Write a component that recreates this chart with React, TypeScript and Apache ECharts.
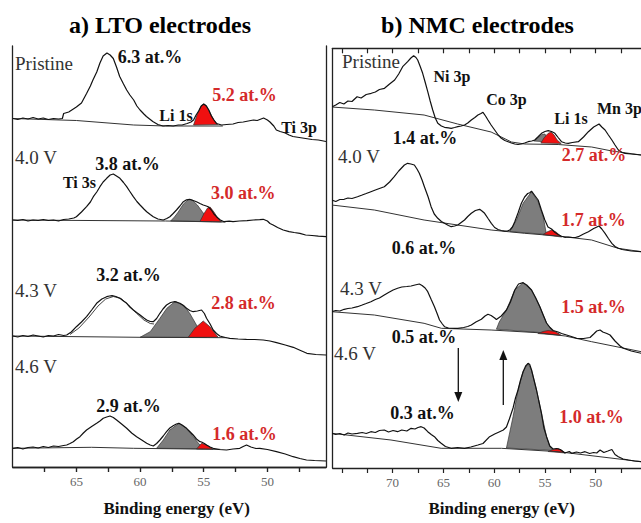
import React, { useEffect, useRef } from "react";
import * as echarts from "echarts";

// ---------- LTO (left) : [binding energy eV, intensity a.u.] ----------
const ltoPristine = [[70.0,348.5],[69.6,347.5],[69.2,349],[68.8,348],[68.4,349.5],[68.0,348],[67.6,349],[67.2,347.5],[66.8,348.5],[66.4,348],[66.1,348.5],[66.0,353.5],[65.6,355],[65.0,360],[64.6,364],[64.2,373.5],[63.9,381],[63.7,387],[63.4,395],[63.15,404],[62.9,411],[62.6,414],[62.35,412],[62.1,408.5],[61.85,400],[61.6,390.5],[61.3,383],[61.05,377],[60.8,372],[60.5,367],[60.25,361],[60.0,357],[59.7,353],[59.5,350.5],[59.2,347.5],[59.0,345.5],[58.6,342.5],[58.2,341],[57.8,341.5],[57.4,341],[57.0,342],[56.7,342],[56.3,343.5],[56.0,345],[55.8,347],[55.6,352],[55.4,356],[55.2,361],[55.0,363],[54.8,361],[54.6,357],[54.4,351],[54.2,347],[54.0,343.5],[53.6,342],[53.2,342.5],[52.7,343],[52.3,344.5],[51.9,345],[51.5,346],[51.1,347],[50.8,346.5],[50.5,348],[50.3,349],[50.0,347],[49.8,345],[49.5,341],[49.3,337],[49.0,335.5],[48.6,334],[48.3,332],[48.0,330.5],[47.5,329.5],[47.0,328.5],[46.5,327.5],[46.0,327],[45.4,325.5]];
const ltoPristineBg = [[70.0,348.5],[65.0,346.5],[60.5,342],[58.0,341],[53.5,341]];
const ltoPristineLi = [[55.8,342],[55.5,353],[55.2,361],[55.0,363],[54.8,361.5],[54.5,354],[54.2,347],[53.9,342.5]];

const lto40 = [[70.0,247],[69.6,246.5],[69.2,247.5],[68.8,246],[68.4,247],[68.0,246.5],[67.6,247.5],[67.2,246.5],[66.8,247],[66.4,246],[66.0,247.5],[65.6,248],[65.2,249],[65.0,250.3],[64.6,255],[64.2,260.3],[63.9,265],[63.67,270.3],[63.4,275],[63.15,280.3],[62.9,285],[62.62,288.7],[62.35,292],[62.1,293],[61.85,291],[61.58,288.7],[61.3,284.5],[61.05,280.3],[60.8,275.5],[60.53,270.3],[60.25,265.5],[60.0,262],[59.7,258],[59.48,255.3],[59.2,252.5],[58.96,250.3],[58.6,248],[58.18,247],[57.9,248.5],[57.66,250.3],[57.4,253.5],[57.14,257],[56.87,261],[56.6,265.3],[56.35,267.2],[56.1,267.7],[55.83,266.5],[55.57,265.3],[55.3,263.5],[55.04,262],[54.8,261],[54.65,260.3],[54.4,257],[54.2,253],[54.0,250.3],[53.7,247],[53.4,245.3],[53.0,245.8],[52.7,245.3],[52.2,246],[51.6,246.3],[51.1,247],[50.6,247.3],[50.33,247.7],[50.0,246],[49.8,243.5],[49.55,242],[49.2,239.5],[48.76,237],[48.3,235.3],[47.9,234.5],[47.45,233.7],[47.0,232],[46.5,231.5],[46.0,230.8],[45.4,230.3]];
const lto40Bg = [[70.0,247],[58.0,246],[53.3,245]];
const lto40Gray = [[57.6,246],[57.3,250],[57.0,255],[56.6,263],[56.2,267.5],[55.9,267],[55.5,262],[55.1,255],[54.7,249],[54.4,245.5]];
const lto40Li = [[55.3,245.5],[55.0,253],[54.7,259],[54.5,260],[54.2,255],[53.9,249],[53.6,245]];

const lto43 = [[70.0,131],[69.6,130],[69.2,131.5],[68.8,130.5],[68.4,132],[68.0,131],[67.6,130],[67.2,131.5],[66.8,131],[66.4,132.5],[66.0,131.5],[65.76,132],[65.4,135],[65.0,140.3],[64.6,145],[64.2,150.3],[63.8,157],[63.41,163.7],[63.0,168],[62.62,170.3],[62.4,171],[62.2,171.3],[61.9,170.5],[61.58,168.7],[61.3,166],[61.05,163.7],[60.8,160],[60.53,157],[60.27,154.5],[60.0,152],[59.7,149],[59.48,147],[59.2,145.5],[58.96,145.3],[58.7,148.5],[58.44,153.7],[58.2,158],[57.92,162],[57.6,164.5],[57.27,165.3],[57.1,164.8],[56.87,163.7],[56.6,161.5],[56.35,158.7],[56.1,156.5],[55.83,155.3],[55.5,156],[55.17,157],[54.95,153.5],[54.78,148.7],[54.5,143],[54.26,137],[54.0,133.5],[53.74,131],[53.3,129.5],[52.96,128.7],[52.3,128],[51.65,127.7],[51.0,127.5],[50.33,127],[49.8,126],[49.28,124.3],[48.6,122],[47.97,119.7],[47.4,116.5],[46.9,113.7],[46.2,112.5],[45.4,112]];
const lto43Fit = [[65.5,132.5],[64.8,139],[64.0,150],[63.3,161],[62.7,168],[62.1,170.5],[61.5,168.5],[60.9,162],[60.3,154],[59.7,147],[59.2,143.5],[58.9,143]];
const lto43Bg = [[70.0,131],[60.0,129.7],[53.2,129.3]];
const lto43Gray = [[60.0,129.7],[59.2,135.3],[58.44,148.7],[57.9,158.7],[57.27,165.3],[56.6,162],[56.1,153.7],[55.57,142],[55.04,132],[54.78,129.7]];
const lto43Li = [[56.22,129.7],[55.7,138.7],[55.04,146],[54.52,140.3],[53.87,129.7]];

const lto46 = [[70.0,18.7],[69.6,19.5],[69.2,18],[68.8,19.5],[68.4,20],[68.0,19],[67.6,20.5],[67.2,19.5],[66.8,21],[66.4,20.5],[66.0,21.5],[65.76,22],[65.5,23.5],[65.24,25.3],[64.98,28],[64.72,30.3],[64.45,34],[64.2,37],[63.8,40.5],[63.41,43.7],[63.15,46],[62.89,48.7],[62.62,50],[62.36,51],[62.1,49.5],[61.84,47],[61.45,43],[61.05,38.7],[60.66,34],[60.27,30.3],[59.87,27],[59.48,23.7],[59.2,22],[58.96,21],[58.7,23.5],[58.44,27],[58.18,31],[57.92,35.3],[57.66,39],[57.4,41.3],[57.15,43],[56.95,43.7],[56.7,42],[56.35,38.7],[56.1,35.5],[55.83,32],[55.57,28],[55.3,25.3],[55.17,25],[54.95,23.5],[54.78,22],[54.5,20],[54.26,18.7],[53.8,17.5],[53.21,17],[52.7,18],[52.17,18.7],[51.9,20.5],[51.64,22],[51.3,20],[50.9,18.5],[50.6,18.7],[50.0,17.5],[49.29,15.3],[48.6,13],[47.98,10.3],[47.45,8.5],[46.93,7],[46.3,6.5],[45.4,6]];
const lto46Bg = [[70.0,18.7],[63.8,19.7],[60.5,18.7],[53.7,17.7]];
const lto46Gray = [[58.7,18.7],[58.18,27],[57.66,37],[56.95,43.7],[56.35,38.7],[55.83,30.3],[55.3,22],[55.04,18.3]];
const lto46Li = [[55.57,18],[55.17,23.7],[54.78,22],[54.26,17.7]];

// ---------- NMC (right) ----------
const nmcPristine = [[76.0,361],[75.6,363],[75.2,365.5],[74.8,364],[74.4,367],[74.0,366.5],[73.5,371.3],[73.1,370],[72.6,373.5],[72.1,374.7],[71.7,376],[71.3,378.5],[70.8,379.7],[70.3,384],[69.8,388],[69.4,394],[69.01,401.3],[68.52,406.3],[68.2,410],[67.93,412.3],[67.7,410.5],[67.53,408],[67.3,402],[67.04,394.7],[66.8,386],[66.54,376.3],[66.3,367],[66.05,358],[65.8,350],[65.55,344.7],[65.2,342],[64.89,340.7],[64.5,340.2],[64.23,339.7],[63.9,340.5],[63.58,341.3],[63.25,342],[62.92,343],[62.6,345],[62.25,348],[61.9,350.5],[61.6,353],[61.3,354.5],[61.1,355.7],[60.85,352],[60.61,348],[60.3,343],[59.95,338],[59.6,333],[59.29,329.7],[58.95,327.5],[58.63,326.3],[58.3,325],[57.97,324],[57.65,323.5],[57.32,324],[57.0,325],[56.66,326.3],[56.3,327],[56.0,328],[55.7,331],[55.34,334.7],[55.0,336.5],[54.68,337.3],[54.35,336.5],[54.02,334.7],[53.7,330.5],[53.37,326.3],[53.0,325],[52.71,324.7],[52.3,325.5],[51.71,326.3],[51.2,331],[50.72,336.3],[50.2,341],[49.67,344],[49.4,341],[49.08,338],[48.75,333],[48.41,328],[48.1,323],[47.77,318],[47.4,315.5],[47.11,314.7],[46.5,314],[45.52,313]];
const nmcPristineBg = [[76.0,361],[71.8,358],[66.9,353],[63.6,344],[60.3,336],[58.3,326],[57.0,324],[53.7,323.5],[50.4,321],[48.4,317],[45.52,313]];
const nmcPristineGray = [[56.1,327],[55.7,330],[55.3,333.5],[55.0,334],[54.8,330],[54.6,326]];
const nmcPristineLi = [[55.4,325],[55.1,330],[54.7,334.5],[54.4,336],[54.1,333],[53.8,328],[53.4,324.5]];

const nmc40 = [[76.0,268],[75.6,266.5],[75.2,268.5],[74.77,268.7],[74.4,270],[74.0,269.5],[73.46,271.3],[73.0,273],[72.6,274.5],[72.14,276.3],[71.7,278],[71.3,279.5],[70.82,281.3],[70.3,286],[69.84,291.3],[69.4,297],[68.84,303],[68.52,304.7],[68.2,304],[67.86,303],[67.6,299],[67.37,294.7],[67.1,288],[66.87,281.3],[66.5,271],[66.21,261.3],[65.9,254],[65.55,249.7],[65.2,246.5],[64.89,244.7],[64.5,242.5],[64.23,241.3],[63.9,242],[63.58,243],[63.25,245.5],[62.92,248],[62.6,251.5],[62.25,254.7],[61.85,257.5],[61.43,258.7],[61.2,257],[60.94,254.7],[60.6,249.5],[60.28,244.7],[59.95,240.5],[59.62,238.5],[59.3,237.5],[58.96,236.8],[58.7,237],[58.46,238],[58.2,241],[57.97,246.3],[57.65,255],[57.32,264.7],[57.0,271],[56.7,274.5],[56.49,275.3],[56.32,276.8],[56.0,272.5],[55.67,268],[55.35,258],[55.01,248],[54.7,241],[54.35,239],[54.0,235.5],[53.7,233.5],[53.37,231.8],[53.04,230.7],[52.7,231],[52.37,230.7],[52.0,230.5],[51.71,231.3],[51.2,234],[50.72,236.3],[50.2,239.5],[49.67,242],[49.4,239],[49.08,234.7],[48.75,229.5],[48.41,224.7],[48.1,221.5],[47.77,219.7],[47.4,218.5],[47.11,218],[46.5,217],[45.52,216.3]];
const nmc40Bg = [[76.0,263],[71.8,258],[66.9,248],[63.6,243],[60.3,238],[57.0,234.7],[53.7,232],[50.4,228],[47.8,219.7],[45.52,216.3]];
const nmc40Gray = [[58.46,236.5],[57.8,248],[57.15,264.7],[56.32,276.3],[55.67,266.3],[55.17,251.3],[54.85,233.5]];
const nmc40Li = [[55.2,233.3],[54.8,236],[54.35,238],[53.9,236],[53.37,231]];

const nmc43 = [[76.0,156.3],[75.6,157.5],[75.2,157],[74.77,158.7],[74.4,159.5],[74.0,160],[73.46,161.3],[73.0,163],[72.6,164.5],[72.14,166.3],[71.7,168.5],[71.3,170],[70.82,173],[70.4,175.5],[69.95,178],[69.51,179.7],[69.1,181],[68.6,181.5],[68.18,182],[67.8,183],[67.37,184],[67.1,182.5],[66.8,180],[66.54,176.3],[66.2,168.5],[65.88,161.3],[65.6,154],[65.38,148],[65.1,144],[64.89,141.3],[64.5,140],[63.9,139.7],[63.58,139.7],[63.0,140.5],[62.6,141.5],[62.25,143],[61.8,146],[61.26,148.7],[60.9,152],[60.61,153.7],[60.3,152.5],[59.95,150],[59.78,148.5],[59.3,152],[58.79,158],[58.4,166],[57.97,178],[57.6,184],[57.15,185.3],[56.8,183],[56.32,178],[55.9,170],[55.5,161.3],[55.17,153],[54.84,145],[54.5,140.5],[54.19,137.5],[53.7,136],[53.36,134.5],[52.87,133],[52.4,131.5],[51.88,129.7],[51.2,129.5],[50.56,130.5],[50.2,134],[49.9,137],[49.57,138],[49.3,136],[48.9,134.5],[48.59,133],[48.1,127],[47.6,122],[47.27,119.7],[46.5,117],[45.52,114.7]];
const nmc43Bg = [[76.0,156.3],[71.8,153],[66.9,144.7],[65.2,139.7],[60.3,138],[55.7,135.3],[53.0,132],[50.4,126.3],[45.52,116.3]];
const nmc43Gray = [[59.78,138.8],[59.5,146],[58.79,158],[57.97,178],[57.15,185.3],[56.32,178],[55.5,161.3],[54.84,144.7],[54.19,136.3],[53.6,134]];
const nmc43Li = [[55.7,134.5],[55.2,136.5],[54.68,137.5],[54.0,136.5],[53.36,132.5]];

const nmc46 = [[76.0,34.7],[75.6,33.5],[75.2,34.5],[74.77,33],[74.4,35],[74.0,34],[73.46,34.7],[73.0,35.5],[72.6,34.5],[72.14,36.3],[71.7,35.5],[71.3,37.5],[70.82,38],[70.4,36],[69.95,37.5],[69.51,36.3],[69.1,38],[68.6,37],[68.18,39.7],[67.8,39],[67.5,40.5],[67.19,41.3],[66.9,40],[66.54,36.3],[66.2,33.5],[65.88,31.3],[65.55,27.5],[65.22,24.7],[64.8,21.5],[64.23,19.7],[63.6,20.5],[62.92,19.7],[62.3,21],[61.6,23],[61.1,24.5],[60.45,31.3],[59.95,34],[59.46,36.3],[59.1,38],[58.79,41],[58.5,49],[58.14,60],[57.9,70],[57.65,78],[57.4,88],[57.15,96.3],[56.9,102],[56.66,104.7],[56.5,103.5],[56.32,98],[56.1,89],[55.83,78],[55.6,67],[55.34,54.7],[55.1,40],[54.84,31.3],[54.52,22],[54.2,19],[53.85,19.5],[53.5,18.5],[53.04,15],[52.6,16.5],[52.37,14.7],[51.9,16],[51.5,15],[51.05,16.3],[50.6,14.5],[50.2,15.5],[49.9,15],[49.57,18],[49.2,15.5],[48.8,17],[48.41,18.5],[48.1,13.5],[47.77,11.3],[47.3,9],[46.78,8],[46.2,7],[45.52,6.3]];
const nmc46Bg = [[76.0,34.7],[70.16,28],[65.22,19.7],[59.29,19.7],[53.7,16.3],[45.52,6.3]];
const nmc46Gray = [[58.79,20],[58.14,51.3],[57.65,78],[57.15,96.3],[56.66,104.7],[56.32,98],[55.83,78],[55.34,54.7],[54.84,31.3],[54.52,21.3],[54.2,17.5]];
const nmc46Li = [[54.7,16.5],[54.2,18.5],[53.7,19.5],[53.3,17.5],[53.0,15]];

// ---------- ticks & annotations ----------
const ltoTicks = [67.5, 65, 62.5, 60, 57.5, 55, 52.5, 50, 47.5];
const ltoTickLabels = [65, 60, 55, 50];
const nmcTicks = [75, 72.5, 70, 67.5, 65, 62.5, 60, 57.5, 55, 52.5, 50, 47.5];
const nmcTickLabels = [70, 65, 60, 55, 50];
const states = ["Pristine", "4.0 V", "4.3 V", "4.6 V"];
const ltoTi3sAt = ["6.3", "3.8", "3.2", "2.9"];
const ltoLiAt = ["5.2", "3.0", "2.8", "1.6"];
const nmcTmAt = ["1.4", "0.6", "0.5", "0.3"];
const nmcLiAt = ["2.7", "1.7", "1.5", "1.0"];

const FONT = '"Liberation Serif", "Times New Roman", serif';
const RED_TEXT = "#d42a2a";
const RED_FILL = "#f01010";
const GRAY_FILL = "#7d7d7d";

export default function App() {
  const ref = useRef<HTMLDivElement>(null);
  useEffect(() => {
    if (!ref.current) return;
    const chart = echarts.init(ref.current, null, { renderer: "svg" });

    const line = (data: number[][], axis: number, color = "#111", width = 1.2) => ({
      type: "line", data, xAxisIndex: axis, yAxisIndex: axis === 2 ? 2 : 0, showSymbol: false, symbol: "none",
      lineStyle: { color, width }, z: 3, silent: true,
    });
    const poly = (pts: number[][], axis: number, fill: string) => ({
      type: "custom", xAxisIndex: axis, yAxisIndex: axis === 2 ? 2 : 0, data: [pts[0]], z: 2, silent: true,
      renderItem: (_p: any, api: any) => ({
        type: "polygon",
        shape: { points: pts.map((p) => api.coord(p)) },
        style: { fill, stroke: "#333", lineWidth: 0.7 },
      }),
    });
    const L = 0, R = 2;

    const series: any[] = [
      poly(ltoPristineLi, L, RED_FILL),
      poly(lto40Gray, L, GRAY_FILL), poly(lto40Li, L, RED_FILL),
      poly(lto43Gray, L, GRAY_FILL), poly(lto43Li, L, RED_FILL),
      poly(lto46Gray, L, GRAY_FILL), poly(lto46Li, L, RED_FILL),
      line(ltoPristineBg, L, "#333", 1), line(lto40Bg, L, "#333", 1),
      line(lto43Bg, L, "#333", 1), line(lto46Bg, L, "#333", 1),
      line(lto43Fit, L, "#444", 1),
      line(ltoPristine, L), line(lto40, L), line(lto43, L), line(lto46, L),

      poly(nmcPristineGray, R, GRAY_FILL), poly(nmcPristineLi, R, RED_FILL),
      poly(nmc40Gray, R, GRAY_FILL), poly(nmc40Li, R, RED_FILL),
      poly(nmc43Gray, R, GRAY_FILL), poly(nmc43Li, R, RED_FILL),
      poly(nmc46Gray, R, GRAY_FILL), poly(nmc46Li, R, RED_FILL),
      line(nmcPristineBg, R, "#333", 1), line(nmc40Bg, R, "#333", 1),
      line(nmc43Bg, R, "#333", 1), line(nmc46Bg, R, "#333", 1),
      line(nmcPristine, R), line(nmc40, R), line(nmc43, R), line(nmc46, R),
    ];

    const axisLine = { show: true, lineStyle: { color: "#222", width: 1.3 } };
    const bottomX = (grid: number, min: number, max: number, ticks: number[], labs: number[]) => ({
      type: "value", gridIndex: grid, position: "bottom", min, max, inverse: true,
      axisLine, splitLine: { show: false },
      axisTick: { show: true, inside: false, length: 5, customValues: ticks, lineStyle: { color: "#222", width: 1.2 } },
      axisLabel: { show: true, customValues: labs, color: "#666", fontFamily: FONT, fontSize: 13, margin: 8 },
    });
    const topX = (grid: number, min: number, max: number, ticks: number[]) => ({
      type: "value", gridIndex: grid, position: "top", min, max, inverse: true,
      axisLine, splitLine: { show: false },
      axisTick: { show: true, inside: true, length: 5, customValues: ticks, lineStyle: { color: "#222", width: 1.2 } },
      axisLabel: { show: false },
    });
    const yAx = (grid: number, max: number, position: string) => ({
      type: "value", gridIndex: grid, position, min: 0, max,
      axisLine, axisTick: { show: false }, axisLabel: { show: false }, splitLine: { show: false },
    });

    const txt = (text: string, x: number, y: number, size: number, bold: boolean, fill: string, align = "center") => ({
      type: "text", x, y, silent: true, z: 10,
      style: { text, fontSize: size, fontWeight: bold ? "bold" : "normal", fontFamily: FONT, fill, align, verticalAlign: "middle" },
    });
    const at = (v: string) => v + " at.%";
    const graphic: any[] = [
      txt("a) LTO electrodes", 160, 25, 24, true, "#000"),
      txt("b) NMC electrodes", 477.5, 25, 24, true, "#000"),
      txt(states[0], 15, 63, 19, false, "#333", "left"),
      txt(at(ltoTi3sAt[0]), 150, 57, 18, true, "#111"),
      txt(at(ltoLiAt[0]), 244.5, 95, 18, true, RED_TEXT),
      txt("Li 1s", 176, 115, 16, true, "#111"),
      txt("Ti 3p", 299, 127, 16, true, "#111"),
      txt(states[1], 15, 157, 19, false, "#333", "left"),
      txt(at(ltoTi3sAt[1]), 127.5, 164, 18, true, "#111"),
      txt("Ti 3s", 79.5, 182, 16, true, "#111"),
      txt(at(ltoLiAt[1]), 243.3, 193.3, 18, true, RED_TEXT),
      txt(states[2], 15, 290, 19, false, "#333", "left"),
      txt(at(ltoTi3sAt[2]), 128.5, 275, 18, true, "#111"),
      txt(at(ltoLiAt[2]), 243.5, 303, 18, true, RED_TEXT),
      txt(states[3], 15, 366, 19, false, "#333", "left"),
      txt(at(ltoTi3sAt[3]), 128.5, 405.7, 18, true, "#111"),
      txt(at(ltoLiAt[3]), 244.5, 434, 18, true, RED_TEXT),
      txt("Binding energy (eV)", 176.7, 508.3, 17, true, "#111"),
      txt(states[0], 342, 61, 19, false, "#333", "left"),
      txt("Ni 3p", 452, 76.7, 16, true, "#111"),
      txt("Co 3p", 506.5, 99.3, 16, true, "#111"),
      txt("Li 1s", 571, 118.3, 16, true, "#111"),
      txt("Mn 3p", 597, 108.3, 16, true, "#111", "left"),
      txt(at(nmcTmAt[0]), 425, 138.3, 18, true, "#111"),
      txt(states[1], 338, 156.7, 19, false, "#333", "left"),
      txt(at(nmcLiAt[0]), 594, 155, 18, true, RED_TEXT),
      txt(at(nmcLiAt[1]), 593.5, 220, 18, true, RED_TEXT),
      txt(at(nmcTmAt[1]), 424, 248.3, 18, true, "#111"),
      txt(states[2], 340, 288.3, 19, false, "#333", "left"),
      txt(at(nmcLiAt[2]), 593.5, 306.7, 18, true, RED_TEXT),
      txt(at(nmcTmAt[2]), 424, 336.7, 18, true, "#111"),
      txt(states[3], 334, 353.3, 19, false, "#333", "left"),
      txt(at(nmcTmAt[3]), 422.5, 413.3, 18, true, "#111"),
      txt(at(nmcLiAt[3]), 591.5, 416.7, 18, true, RED_TEXT),
      txt("Binding energy (eV)", 501.7, 508.3, 17, true, "#111"),
      { type: "line", silent: true, shape: { x1: 458.3, y1: 348, x2: 458.3, y2: 394 }, style: { stroke: "#111", lineWidth: 1.3 } },
      { type: "polygon", silent: true, shape: { points: [[454.3, 392], [462.3, 392], [458.3, 402]] }, style: { fill: "#111" } },
      { type: "line", silent: true, shape: { x1: 503.3, y1: 405, x2: 503.3, y2: 358 }, style: { stroke: "#111", lineWidth: 1.3 } },
      { type: "polygon", silent: true, shape: { points: [[499.3, 360], [507.3, 360], [503.3, 350]] }, style: { fill: "#111" } },
    ];

    chart.setOption({
      animation: false,
      backgroundColor: "#fff",
      grid: [
        { left: 12.7, top: 46, width: 313.3, height: 421, outerBoundsMode: "none" },
        { left: 332.7, top: 48.3, width: 308.3, height: 419.7, outerBoundsMode: "none" },
      ],
      xAxis: [
        bottomX(0, 45.4, 70, ltoTicks, ltoTickLabels),
        topX(0, 45.4, 70, ltoTicks),
        bottomX(1, 45.54, 75.9, nmcTicks, nmcTickLabels),
        topX(1, 45.54, 75.9, nmcTicks),
      ],
      yAxis: [
        yAx(0, 421, "left"),
        yAx(0, 421, "right"),
        yAx(1, 419.7, "left"),
      ],
      series,
      graphic,
    });
    return () => chart.dispose();
  }, []);
  return <div ref={ref} style={{ position: "fixed", left: 0, top: 0, width: 641, height: 523, background: "#fff" }} />;
}
